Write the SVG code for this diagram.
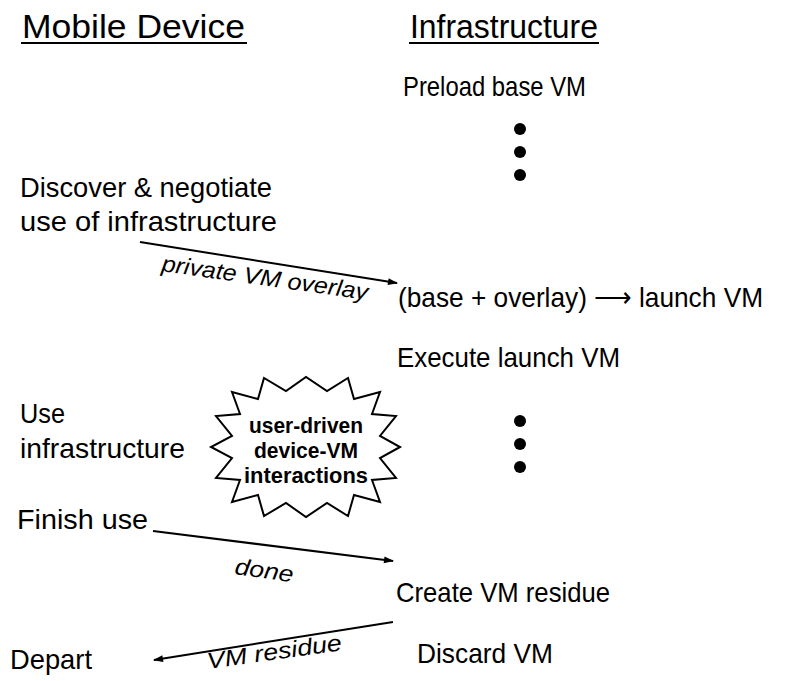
<svg xmlns="http://www.w3.org/2000/svg" width="795" height="681" viewBox="0 0 795 681">
<style>
text{font-family:"Liberation Sans",Arial,sans-serif;fill:#000}
.hd{font-size:33px}
.bd{font-size:28px}
.lb{font-size:23px;font-style:italic}
.in{font-size:22px;font-weight:bold}
.ln{stroke:#000;stroke-width:2;fill:none}
.dot{fill:#000}
</style>
<defs>
<marker id="ah" viewBox="0 0 10 10" refX="9" refY="5" markerWidth="18" markerHeight="10" markerUnits="userSpaceOnUse" orient="auto">
<path d="M0,1.5 L10,5 L0,8.5 Z" fill="#000"/>
</marker>
</defs>
<rect width="795" height="681" fill="#fff"/>
<g id="hdr-mobile"><text class="hd" x="22" y="38" textLength="223" lengthAdjust="spacingAndGlyphs">Mobile Device</text><line class="ln" x1="21" y1="43" x2="247" y2="43"/></g>
<g id="hdr-infra"><text class="hd" x="410" y="38" textLength="188" lengthAdjust="spacingAndGlyphs">Infrastructure</text><line class="ln" x1="409" y1="43" x2="599" y2="43"/></g>
<g id="preload"><text class="bd" x="403" y="96" textLength="183" lengthAdjust="spacingAndGlyphs">Preload base VM</text></g>
<g id="dots1"><circle class="dot" cx="520" cy="129" r="6"/><circle class="dot" cx="520" cy="152" r="6"/><circle class="dot" cx="520" cy="175" r="6"/></g>
<g id="discover"><text class="bd" x="20" y="197" textLength="252" lengthAdjust="spacingAndGlyphs">Discover &amp; negotiate</text><text class="bd" x="20" y="231" textLength="257" lengthAdjust="spacingAndGlyphs">use of infrastructure</text></g>
<g id="launch"><text class="bd" x="398" y="307" textLength="365" lengthAdjust="spacingAndGlyphs">(base + overlay) ⟶ launch VM</text></g>
<g id="execute"><text class="bd" x="397" y="367" textLength="223" lengthAdjust="spacingAndGlyphs">Execute launch VM</text></g>
<g id="use"><text class="bd" x="20" y="423" textLength="45" lengthAdjust="spacingAndGlyphs">Use</text><text class="bd" x="20" y="458" textLength="165" lengthAdjust="spacingAndGlyphs">infrastructure</text></g>
<g id="interactions">
<polygon class="ln" points="400,447 380,458 396,478 372,480 380,502 354,495 348,516 327,503 306,517 286,503 264,516 258,495 232,502 240,480 216,478 232,458 211,447 232,436 216,416 240,414 232,392 258,399 264,378 286,391 306,377 327,391 348,378 354,399 380,392 372,414 396,416 380,436"/>
<text class="in" x="306" y="433" text-anchor="middle" textLength="114" lengthAdjust="spacingAndGlyphs">user-driven</text>
<text class="in" x="306" y="458" text-anchor="middle" textLength="104" lengthAdjust="spacingAndGlyphs">device-VM</text>
<text class="in" x="306" y="483" text-anchor="middle" textLength="124" lengthAdjust="spacingAndGlyphs">interactions</text>
</g>
<g id="dots2"><circle class="dot" cx="520" cy="421" r="6"/><circle class="dot" cx="520" cy="444" r="6"/><circle class="dot" cx="520" cy="467" r="6"/></g>
<g id="finish"><text class="bd" x="17" y="529" textLength="131" lengthAdjust="spacingAndGlyphs">Finish use</text></g>
<g id="residue"><text class="bd" x="396" y="602" textLength="214" lengthAdjust="spacingAndGlyphs">Create VM residue</text></g>
<g id="discard"><text class="bd" x="417" y="663" textLength="136" lengthAdjust="spacingAndGlyphs">Discard VM</text></g>
<g id="depart"><text class="bd" x="10" y="669" textLength="82" lengthAdjust="spacingAndGlyphs">Depart</text></g>
<g id="connectors">
<line class="ln" x1="140" y1="242" x2="397" y2="283" marker-end="url(#ah)"/>
<text class="lb" transform="translate(161,271) rotate(8)" textLength="208" lengthAdjust="spacingAndGlyphs">private VM overlay</text>
<line class="ln" x1="153" y1="531" x2="393" y2="561" marker-end="url(#ah)"/>
<text class="lb" transform="translate(234,574) rotate(8)" textLength="59" lengthAdjust="spacingAndGlyphs">done</text>
<line class="ln" x1="393" y1="622" x2="154" y2="660" marker-end="url(#ah)"/>
<text class="lb" transform="translate(208,669) rotate(-8)" textLength="136" lengthAdjust="spacingAndGlyphs">VM residue</text>
</g>
</svg>
